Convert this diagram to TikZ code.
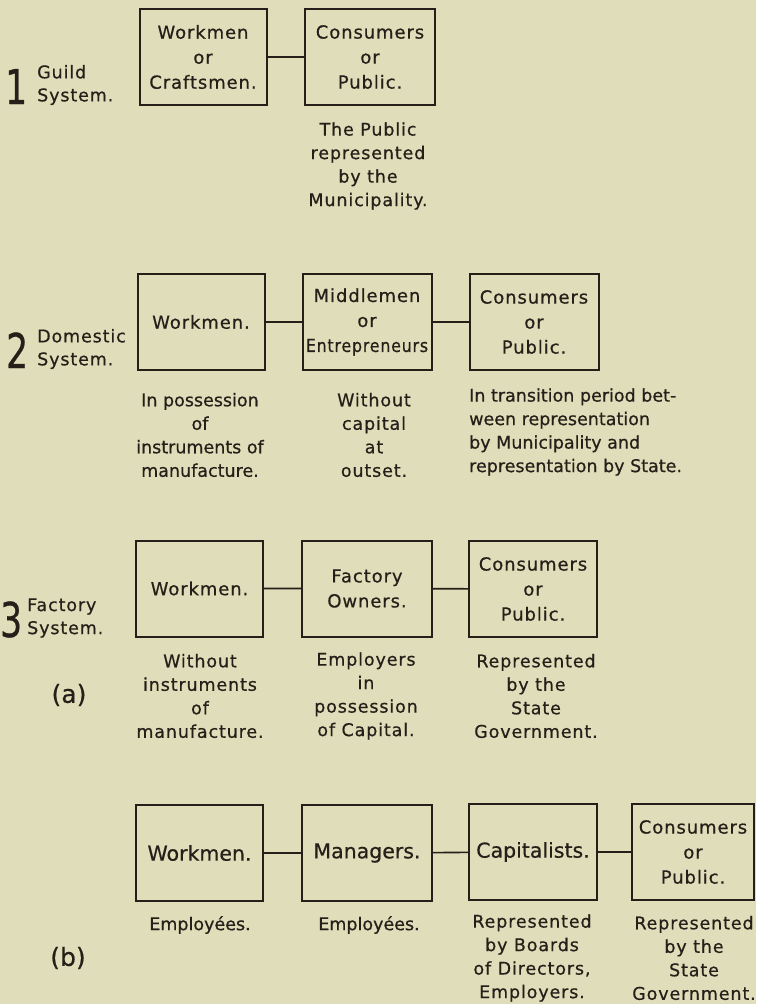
\documentclass[tikz,border=0pt]{standalone}
\usepackage{fontspec}
\usepackage{graphicx}
\setmainfont{DejaVu Sans}[FakeBold=0.6]
\newfontfamily\spacedfont{DejaVu Sans}[LetterSpace=5,FakeBold=0.6]
\definecolor{paper}{RGB}{224,221,186}
\definecolor{ink}{RGB}{38,30,24}
\newcommand{\rowno}[1]{\scalebox{0.72}[1]{\fontsize{48}{48}\selectfont #1}}
\newcommand{\entre}{\scalebox{0.88}[1]{Entrepreneurs}}

\begin{document}
\begin{tikzpicture}[x=1pt,y=-1pt,
  box/.style={draw=ink,line width=2pt,minimum width=127pt,minimum height=96pt,
    inner sep=1pt,align=center,text=ink,font=\spacedfont\fontsize{18}{25}\selectfont},
  bigbox/.style={box,font=\fontsize{20.5}{25}\selectfont},
  note/.style={align=center,inner sep=0pt,text=ink,font=\fontsize{17.5}{23.5}\selectfont},
  spnote/.style={note,font=\spacedfont\fontsize{17.5}{23.5}\selectfont},
  link/.style={draw=ink,line width=1.6pt},
  sysname/.style={align=left,anchor=west,inner sep=0pt,text=ink,font=\spacedfont\fontsize{17.5}{23}\selectfont},
  rownum/.style={anchor=base west,inner sep=0pt,text=ink},
  part/.style={inner sep=0pt,text=ink,font=\fontsize{25}{25}\selectfont}]
\fill [paper] (0,0) rectangle (756,1004);
\useasboundingbox (0,0) rectangle (756,1004);
% 1 guild system
  \node (n1) at (5,104) [rownum] {\rowno{1}};
  \node (g1) at (37,85) [sysname] {Guild\\System.};
  \node (w1) at (203,57) [box] {Workmen\\or\\Craftsmen.};
  \node (c1) at (370,57) [box,minimum width=130pt] {Consumers\\or\\Public.};
  \draw [link] (w1) to (c1);
  \node (c1t) at (368,166) [spnote] {The Public\\represented\\by the\\Municipality.};
% 2 domestic system
  \node (n2) at (6,368) [rownum] {\rowno{2}};
  \node (g2) at (37,349) [sysname] {Domestic\\System.};
  \node (w2) at (201,322) [box] {Workmen.};
  \node (m2) at (367,322) [box,minimum width=129pt] {Middlemen\\or\\\entre};
  \node (c2) at (534,322) [box,minimum width=129pt] {Consumers\\or\\Public.};
  \draw [link] (w2) to (m2) (m2) to (c2);
  \node (w2t) at (200,435) [note] {In possession\\of\\instruments of\\manufacture.};
  \node (m2t) at (374,435) [spnote] {Without\\capital\\at\\outset.};
  \node (c2t) at (469,432) [note,anchor=west,align=left] {In transition period bet-\\ween representation\\by Municipality and\\representation by State.};
% 3 factory system
  \node (n3) at (0,637) [rownum] {\rowno{3}};
  \node (g3) at (27,618) [sysname] {Factory\\System.};
  \node (w3) at (199.5,588.5) [box] {Workmen.};
  \node (f3) at (367,588.5) [box,minimum width=130pt] {Factory\\Owners.};
  \node (c3) at (533,589) [box,minimum width=128pt] {Consumers\\or\\Public.};
  \draw [link] (w3) to (f3) (f3) to (c3);
  \node (pa) at (69,695) [part] {(a)};
  \node (w3t) at (200,696) [spnote] {Without\\instruments\\of\\manufacture.};
  \node (f3t) at (366,696) [spnote] {Employers\\in\\possession\\of Capital.};
  \node (c3t) at (536,696) [spnote] {Represented\\by the\\State\\Government.};
% (b)
  \node (w4) at (199.5,853) [bigbox] {Workmen.};
  \node (m4) at (367,853) [bigbox,minimum width=130pt] {Managers.};
  \node (k4) at (533,852) [bigbox,minimum width=128pt] {Capitalists.};
  \node (c4) at (693,852) [box,minimum width=122pt] {Consumers\\or\\Public.};
  \draw [link] (w4) to (m4) (m4) to (k4) (k4) to (c4);
  \node (pb) at (68,958) [part] {(b)};
  \node (w4t) at (200,925) [note] {Employées.};
  \node (m4t) at (369,925) [note] {Employées.};
  \node (k4t) at (532,958) [spnote] {Represented\\by Boards\\of Directors,\\Employers.};
  \node (c4t) at (694,958) [spnote] {Represented\\by the\\State\\Government.};
\end{tikzpicture}
\end{document}
